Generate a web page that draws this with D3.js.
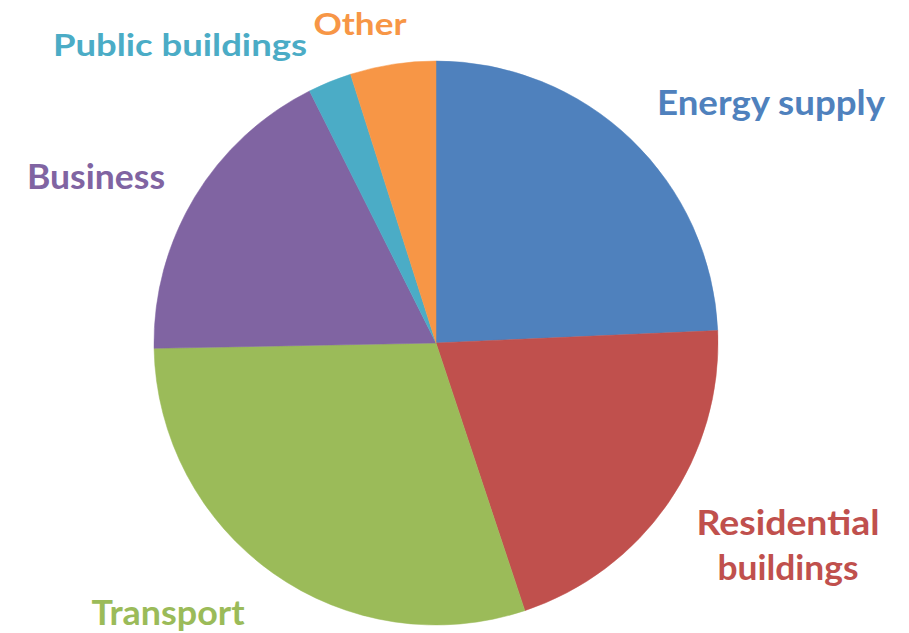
<!DOCTYPE html>
<html>
<head>
<meta charset="utf-8">
<script src="https://cdn.jsdelivr.net/npm/d3@7"></script>
<style>
  body { margin: 0; background: #ffffff; }
  svg { display: block; }
</style>
</head>
<body>
<div id="chart"></div>
<script>
// Emissions share by sector, clockwise from 12 o'clock
const sectors = ["Energy supply", "Residential buildings", "Transport", "Business", "Public buildings", "Other"];
const shares = [24.3, 20.6, 29.8, 17.9, 2.5, 4.9];
const colors = ["#4f81bd", "#c0504d", "#9bbb59", "#8064a2", "#4bacc6", "#f79646"];

// label layout (text lines, anchor centre x, baseline y, target width)
const labelLayout = [
    {lines: ["Energy supply"], x: 771, y: 115, w: 228},
    {lines: ["Residential", "buildings"], x: 788, y: 535, w: [183, 141], dy: 45},
    {lines: ["Transport"], x: 168, y: 625, w: 153},
    {lines: ["Business"], x: 96, y: 189, w: 138},
    {lines: ["Public buildings"], x: 180, y: 56, w: 254},
    {lines: ["Other"], x: 360, y: 35, w: 93}
];

const width = 909, height = 633;
const cx = 436, cy = 343, radius = 282;

const svg = d3.select("#chart").append("svg")
    .attr("width", width)
    .attr("height", height);

const data = sectors.map((s, i) => ({sector: s, value: shares[i], color: colors[i]}));

const pie = d3.pie()
    .sort(null)
    .value(d => d.value);

const arc = d3.arc()
    .innerRadius(0)
    .outerRadius(radius);

const g = svg.append("g")
    .attr("transform", `translate(${cx},${cy})`);

g.selectAll("path.slice")
    .data(pie(data))
    .enter()
    .append("path")
    .attr("class", "slice")
    .attr("d", arc)
    .attr("fill", d => d.data.color)
    .attr("stroke", d => d.data.color)
    .attr("stroke-width", 0.5);

// labels
data.forEach((d, i) => {
    let lay = labelLayout[i];
    lay.lines.forEach((line, j) => {
        let w = Array.isArray(lay.w) ? lay.w[j] : lay.w;
        svg.append("text")
            .attr("x", lay.x)
            .attr("y", lay.y + j * (lay.dy || 0))
            .attr("text-anchor", "middle")
            .attr("fill", d.color)
            .attr("textLength", w)
            .attr("lengthAdjust", "spacingAndGlyphs")
            .style("font-family", "Lato, 'Open Sans', sans-serif")
            .style("font-weight", "bold")
            .style("font-size", i == 4 || i == 5 ? "31px" : "34px")
            .text(line);
    });
});
</script>
</body>
</html>
